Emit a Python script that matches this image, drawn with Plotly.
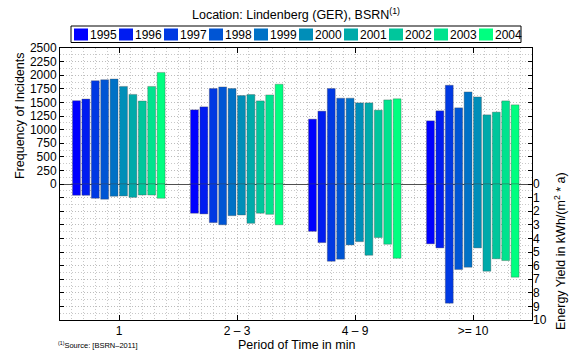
import plotly.graph_objects as go

# ---- data -------------------------------------------------------------
years = [1995, 1996, 1997, 1998, 1999, 2000, 2001, 2002, 2003, 2004]
periods = ["1", "2 – 3", "4 – 9", ">= 10"]

# frequency of incidents per period class (one list per year)
freq_1995 = [1531, 1363, 1192, 1161]
freq_1996 = [1562, 1418, 1339, 1345]
freq_1997 = [1899, 1754, 1754, 1815]
freq_1998 = [1917, 1785, 1578, 1400]
freq_1999 = [1930, 1754, 1578, 1693]
freq_2000 = [1794, 1625, 1491, 1601]
freq_2001 = [1647, 1644, 1491, 1271]
freq_2002 = [1526, 1528, 1357, 1321]
freq_2003 = [1794, 1638, 1546, 1528]
freq_2004 = [2051, 1834, 1565, 1455]

# energy yield in kWh/(m^2 * a) per period class (one list per year)
energy_1995 = [0.83, 2.15, 3.48, 4.40]
energy_1996 = [0.83, 2.20, 4.31, 4.70]
energy_1997 = [1.05, 2.84, 5.68, 8.76]
energy_1998 = [1.12, 3.00, 5.53, 6.29]
energy_1999 = [0.90, 2.33, 4.48, 6.12]
energy_2000 = [0.88, 2.28, 4.24, 4.70]
energy_2001 = [0.98, 2.89, 5.24, 6.41]
energy_2002 = [0.81, 2.15, 3.94, 5.50]
energy_2003 = [0.81, 2.23, 4.43, 5.63]
energy_2004 = [1.05, 3.00, 5.46, 6.85]

freqs = [freq_1995, freq_1996, freq_1997, freq_1998, freq_1999,
         freq_2000, freq_2001, freq_2002, freq_2003, freq_2004]
energies = [energy_1995, energy_1996, energy_1997, energy_1998, energy_1999,
            energy_2000, energy_2001, energy_2002, energy_2003, energy_2004]

freq_ticks = list(range(-2500, 2501, 250))
energy_ticks = list(range(0, 11))

# ---- styling ----------------------------------------------------------
W, H = 571, 356
ML, MR, MT, MB = 60, 39, 48, 36
PW, PH = W - ML - MR, H - MT - MB
FONT = "Liberation Sans, Arial, Helvetica, sans-serif"


def px(x):
    return (x - ML) / PW


def py(y):
    return (H - MB - y) / PH


def winter(i, n):
    t = i / (n - 1)
    return "rgb(0,%d,%d)" % (round(255 * t), round(255 * (1 - 0.5 * t)))


colors = [winter(i, len(years)) for i in range(len(years))]
xpos = list(range(1, len(periods) + 1))
bar_w = 0.067
step = 0.0797
start = -0.394
edge = dict(color="rgba(70,70,70,0.55)", width=0.6)

fig = go.Figure()
for i, yr in enumerate(years):
    off = start + i * step
    fig.add_trace(go.Bar(
        x=xpos, y=freqs[i], name=str(yr), offset=off, width=bar_w,
        marker=dict(color=colors[i], line=edge), yaxis="y",
        showlegend=False,
    ))
    fig.add_trace(go.Bar(
        x=xpos, y=energies[i], name=str(yr), offset=off, width=bar_w,
        marker=dict(color=colors[i], line=edge), yaxis="y2",
        showlegend=False,
    ))

grid = dict(showgrid=True, gridcolor="#bcbcbc", griddash="1px,2px", gridwidth=1)
minor_grid = dict(ticks="", showgrid=True, gridcolor="#c8c8c8", griddash="1px,2px")

fig.update_layout(
    width=W, height=H,
    margin=dict(l=ML, r=MR, t=MT, b=MB, pad=0),
    paper_bgcolor="white", plot_bgcolor="white",
    barmode="overlay",
    font=dict(family=FONT, size=12, color="black"),
    title=dict(
        text="Location: Lindenberg (GER), BSRN<sup>(1)</sup>",
        x=px(296), xref="paper", xanchor="center",
        y=1 - 15 / H, yref="container", yanchor="middle",
        font=dict(size=12.5),
    ),
    xaxis=dict(
        range=[0.5, 4.5], tickmode="array", tickvals=xpos, ticktext=periods,
        ticks="inside", ticklen=5, tickcolor="black",
        showline=True, linecolor="black", linewidth=1, mirror="ticks",
        zeroline=False,
        minor=dict(tickmode="linear", tick0=0.5, dtick=0.1, **minor_grid),
        tickfont=dict(size=12),
        **grid,
    ),
    yaxis=dict(
        range=[-2500, 2500], tickmode="array", tickvals=freq_ticks,
        ticktext=[str(v) if v >= 0 else "" for v in freq_ticks],
        ticks="inside", ticklen=4, tickcolor="black",
        showline=True, linecolor="black", linewidth=1, mirror="ticks",
        zeroline=True, zerolinecolor="#505050", zerolinewidth=1,
        minor=dict(tickmode="linear", tick0=0, dtick=125, **minor_grid),
        tickfont=dict(size=12), ticklabelstandoff=0,
        **grid,
    ),
    yaxis2=dict(
        range=[10, -10], overlaying="y", side="right",
        tickmode="array", tickvals=energy_ticks,
        ticktext=[str(v) for v in energy_ticks],
        ticks="", showline=False, showgrid=False, zeroline=False,
        tickfont=dict(size=12), ticklabelstandoff=0,
    ),
)


def note(text, x, y, size, angle=0, xanchor="center"):
    fig.add_annotation(text=text, textangle=angle, x=px(x), y=py(y),
                       xref="paper", yref="paper", xanchor=xanchor,
                       yanchor="middle", showarrow=False, borderpad=0,
                       font=dict(size=size))


# axis titles centred on their half of the plot
note("Frequency of Incidents", 20, 116, 12.5, angle=-90)
note("Energy Yield in kWh/(m<sup>2</sup> * a)", 560, 251, 12.5, angle=-90)
note("Period of Time in min", 296, 345, 12.5)
note("<sup>(1)</sup>Source: [BSRN–2011]", 57, 345, 7.5, xanchor="left")

# legend box with one swatch per year
fig.add_shape(type="rect", xref="paper", yref="paper",
              x0=px(71), x1=px(521), y0=py(42.5), y1=py(26),
              line=dict(color="black", width=1), fillcolor="white")
for i, yr in enumerate(years):
    x0 = 74 + 45 * i
    fig.add_shape(type="rect", xref="paper", yref="paper",
                  x0=px(x0), x1=px(x0 + 14), y0=py(40.5), y1=py(28.5),
                  line=dict(width=0), fillcolor=colors[i])
    note(str(yr), x0 + 15, 34.5, 12, xanchor="left")

fig.write_html("out.html")
